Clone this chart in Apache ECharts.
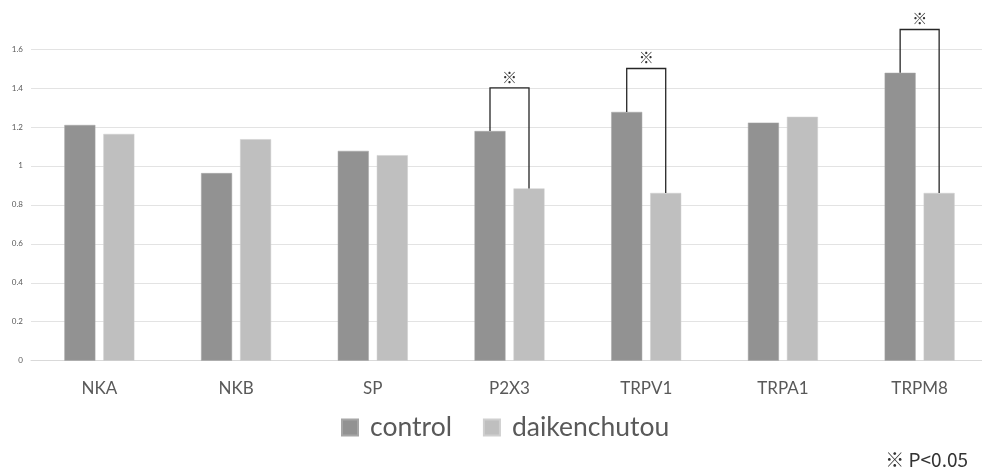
<!DOCTYPE html>
<html><head><meta charset="utf-8">
<script src="https://cdn.jsdelivr.net/npm/echarts@6/dist/echarts.min.js"></script>
<style>html,body{margin:0;padding:0;background:#fff}#c{width:982px;height:467px}</style>
</head><body><div id="c"></div>
<script>
var categories = ['NKA','NKB','SP','P2X3','TRPV1','TRPA1','TRPM8'];
var controlValues = [1.21, 0.963, 1.077, 1.179, 1.277, 1.222, 1.478];
var daikenchutouValues = [1.164, 1.137, 1.055, 0.884, 0.861, 1.252, 0.861];
var yTicks = [0, 0.2, 0.4, 0.6, 0.8, 1, 1.2, 1.4, 1.6];
// significance brackets: [category index, bracket top value]
var sigBrackets = [[3, 1.4], [4, 1.5], [6, 1.7]];

var BAR_W = 31, GAP = 8;
var chart = echarts.init(document.getElementById('c'));
var FONT = 'Lato';
chart.setOption({
  animation: false,
  backgroundColor: '#fff',
  grid: {left: 31, width: 957, top: 49, bottom: 106.3, containLabel: false, outerBoundsMode: 'none'},
  legend: {
    data: ['control','daikenchutou'],
    bottom: 21, left: 336,
    icon: 'rect', itemWidth: 16, itemHeight: 16, itemGap: 31,
    textStyle: {fontFamily: FONT, fontSize: 26.5, color: '#595959', padding: [0,0,0,7]}
  },
  xAxis: {
    type: 'category', data: categories,
    axisLine: {lineStyle: {color: '#d9d9d9', width: 1}},
    axisTick: {show: false},
    axisLabel: {fontFamily: FONT, fontSize: 17, color: '#595959', margin: 19}
  },
  yAxis: {
    type: 'value', min: 0, max: 1.6, interval: 0.2,
    axisLine: {show: false}, axisTick: {show: false},
    splitLine: {lineStyle: {color: '#e3e3e3', width: 1}},
    axisLabel: {fontFamily: FONT, fontSize: 8, color: '#595959', margin: 8,
      formatter: function(v){ var i = yTicks.indexOf(Math.round(v*10)/10); return i>=0 ? String(yTicks[i]) : ''; }}
  },
  series: [
    {name: 'control', type: 'bar', data: controlValues, barWidth: BAR_W, barGap: (GAP/BAR_W*100)+'%',
      itemStyle: {color: '#929292', borderColor: '#a6a6a6', borderWidth: 0.5}},
    {name: 'daikenchutou', type: 'bar', data: daikenchutouValues, barWidth: BAR_W,
      itemStyle: {color: '#bfbfbf', borderColor: '#cfcfcf', borderWidth: 0.5}},
    {type: 'custom', clip: false, silent: true, z: 5,
      data: sigBrackets.map(function(b){ return [b[0], b[1], controlValues[b[0]], daikenchutouValues[b[0]]]; }),
      encode: {x: 0, y: 1},
      renderItem: function(params, api){
        var idx = api.value(0);
        var top = api.coord([idx, api.value(1)]);
        var c1 = api.coord([idx, api.value(2)]);
        var c2 = api.coord([idx, api.value(3)]);
        var off = (BAR_W + GAP) / 2;
        var x1 = top[0] - off, x2 = top[0] + off;
        return {type: 'group', children: [
          {type: 'polyline', shape: {points: [[x1, c1[1]], [x1, top[1]], [x2, top[1]], [x2, c2[1]]]},
            style: {stroke: '#262626', lineWidth: 1.3, fill: null}},
          {type: 'text', style: {text: '※', x: top[0], y: top[1] - 11, align: 'center', verticalAlign: 'middle',
            font: '15px "Noto Sans CJK JP"', fill: '#333'}}
        ]};
      }
    }
  ],
  graphic: [{type: 'text', right: 14, bottom: -2,
    style: {text: '※ P<0.05', font: '19px "Noto Sans CJK JP"', fill: '#333'}}]
});
</script></body></html>
